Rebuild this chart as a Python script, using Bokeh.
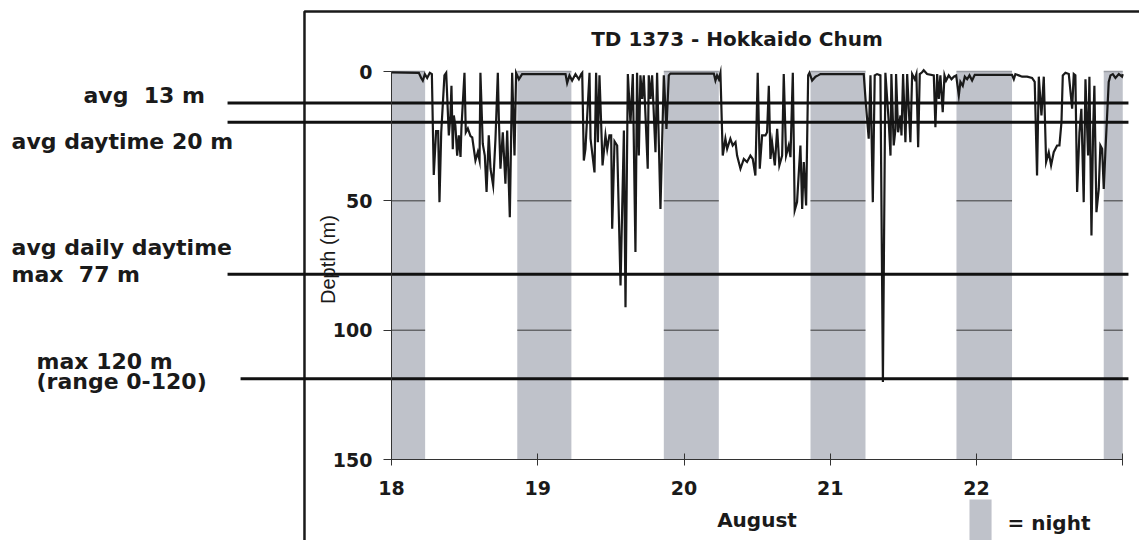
from bokeh.plotting import figure
from bokeh.models import Range1d, FixedTicker
from bokeh.core.properties import value
from bokeh.embed import file_html
from bokeh.resources import INLINE

# ---------------- data ----------------
chart_title = "TD 1373 - Hokkaido Chum"
x_label = "August"
y_label = "Depth (m)"
day_ticks = [18, 19, 20, 21, 22, 23]
depth_ticks = [0, 50, 100, 150]

night_start = [18.0, 18.86, 19.862, 20.865, 21.863, 22.870]
night_end = [18.23, 19.23, 20.238, 21.241, 22.243, 23.0]

time_days = [
    18.000, 18.187, 18.203, 18.214, 18.228, 18.244, 18.262, 18.276, 18.289, 18.305,
    18.319, 18.328, 18.340, 18.362, 18.374, 18.392, 18.403, 18.410, 18.419, 18.426,
    18.437, 18.449, 18.460, 18.472, 18.478, 18.499, 18.508, 18.522, 18.540, 18.552,
    18.574, 18.590, 18.602, 18.608, 18.624, 18.638, 18.650, 18.665, 18.677, 18.695,
    18.711, 18.727, 18.734, 18.745, 18.761, 18.779, 18.791, 18.809, 18.825, 18.841,
    18.852, 18.871, 18.893, 18.905, 19.190, 19.201, 19.217, 19.235, 19.258, 19.281,
    19.297, 19.304, 19.315, 19.326, 19.354, 19.361, 19.388, 19.399, 19.411, 19.422,
    19.434, 19.443, 19.463, 19.475, 19.490, 19.502, 19.509, 19.525, 19.543, 19.566,
    19.589, 19.600, 19.616, 19.634, 19.650, 19.668, 19.679, 19.691, 19.702, 19.714,
    19.725, 19.752, 19.759, 19.771, 19.782, 19.805, 19.816, 19.839, 19.862, 19.880,
    19.896, 19.907, 20.204, 20.215, 20.226, 20.238, 20.249, 20.265, 20.283, 20.295,
    20.317, 20.333, 20.352, 20.363, 20.386, 20.409, 20.431, 20.454, 20.470, 20.488,
    20.504, 20.518, 20.534, 20.557, 20.568, 20.580, 20.591, 20.602, 20.621, 20.637,
    20.652, 20.671, 20.682, 20.698, 20.716, 20.728, 20.744, 20.757, 20.773, 20.796,
    20.808, 20.819, 20.835, 20.849, 20.858, 20.876, 20.899, 20.917, 20.933, 21.229,
    21.241, 21.263, 21.275, 21.291, 21.304, 21.320, 21.343, 21.360, 21.377, 21.400,
    21.412, 21.418, 21.434, 21.446, 21.450, 21.464, 21.480, 21.487, 21.498, 21.514,
    21.526, 21.537, 21.548, 21.560, 21.578, 21.589, 21.601, 21.612, 21.628, 21.639,
    21.662, 21.708, 21.719, 21.731, 21.742, 21.753, 21.769, 21.781, 21.792, 21.810,
    21.829, 21.845, 21.861, 21.879, 21.890, 21.906, 21.920, 21.936, 21.952, 21.970,
    21.988, 22.243, 22.255, 22.266, 22.289, 22.312, 22.346, 22.380, 22.398, 22.414,
    22.426, 22.444, 22.460, 22.476, 22.494, 22.510, 22.528, 22.551, 22.567, 22.581,
    22.590, 22.608, 22.631, 22.654, 22.665, 22.676, 22.688, 22.704, 22.717, 22.733,
    22.745, 22.763, 22.772, 22.786, 22.797, 22.806, 22.820, 22.836, 22.847, 22.859,
    22.870, 22.881, 22.904, 22.916, 22.932, 22.950, 22.973, 22.995, 23.000,
]
depth_m = [
    0.3, 0.5, 2.5, 3.5, 1.0, 2.5, 0.5, 1.0, 40.0, 23.0,
    23.0, 50.5, 23.5, 1.5, 0.5, 24.7, 17.0, 5.5, 30.0, 17.0,
    21.0, 32.5, 24.7, 33.0, 22.0, 0.5, 23.5, 22.0, 25.0, 25.5,
    34.4, 31.2, 34.4, 0.5, 28.0, 32.5, 46.6, 24.7, 37.6, 44.0,
    26.0, 0.5, 18.3, 37.6, 23.5, 43.4, 22.8, 56.3, 0.5, 32.5,
    0.5, 3.0, 1.0, 1.0, 1.0, 4.5, 1.5, 3.5, 1.0, 3.0,
    1.0, 0.5, 34.4, 30.0, 0.5, 26.0, 39.0, 0.5, 27.3, 1.5,
    21.0, 36.3, 24.7, 30.0, 24.7, 24.7, 60.8, 27.0, 28.6, 82.7,
    22.8, 91.1, 1.0, 20.0, 1.0, 69.8, 0.5, 32.5, 1.5, 10.6,
    1.5, 37.6, 1.5, 10.6, 1.5, 31.2, 0.5, 53.1, 1.5, 22.2,
    1.5, 0.8, 0.8, 3.5, 1.5, 3.0, 0.5, 32.5, 26.0, 29.9,
    26.0, 28.6, 27.3, 32.5, 37.6, 33.8, 35.0, 32.5, 33.8, 40.2,
    0.5, 37.6, 24.7, 24.7, 23.5, 5.5, 33.8, 27.3, 36.3, 22.2,
    36.3, 32.5, 1.0, 32.5, 28.6, 33.1, 0.5, 53.7, 50.5, 28.6,
    53.1, 35.0, 51.8, 1.5, 0.5, 3.5, 2.0, 1.5, 1.0, 1.0,
    10.6, 26.0, 1.5, 50.5, 1.5, 1.0, 1.5, 120.0, 0.5, 19.6,
    32.5, 1.0, 28.6, 22.2, 1.0, 23.5, 17.0, 24.7, 1.0, 27.3,
    1.0, 14.4, 27.3, 1.0, 3.0, 1.0, 29.3, 1.0, 0.3, -0.5,
    1.0, 1.5, 21.5, 1.0, 10.6, 1.5, 15.7, 1.5, 3.5, 1.5,
    3.0, 2.0, 1.5, 9.3, 4.0, 5.5, 2.0, 3.0, 1.5, 3.5,
    1.3, 1.3, 3.0, 1.0, 1.5, 2.0, 2.0, 2.5, 4.0, 40.2,
    2.0, 17.0, 2.0, 35.0, 31.2, 36.3, 31.2, 28.6, 28.6, 19.6,
    1.5, 0.5, 1.0, 14.4, 1.0, 1.5, 46.6, 23.5, 14.4, 50.5,
    3.0, 32.5, 2.0, 63.4, 23.5, 5.5, 54.4, 45.4, 28.6, 29.9,
    45.4, 31.2, 4.0, 1.5, 1.0, 2.5, 1.0, 2.0, 1.0,
]

# reference lines (depth) and their captions
ref_line_depths = [12.2, 19.6, 78.4, 118.8]
ref_captions = ["avg\u00a0 13 m", "avg daytime 20 m", "avg daily daytime",
                "max\u00a0 77 m", "max 120 m", "(range 0-120)"]

# ---------------- layout constants ----------------
X_LO, X_HI = 15.3265, 23.1145
Y_BOTTOM, Y_TOP = 181.31, -27.448
FONT = "DejaVu Sans"
INK = "#1a1a1a"
NIGHT = "#bfc2ca"

p = figure(width=1139, height=540, x_range=Range1d(X_LO, X_HI),
           y_range=Range1d(Y_BOTTOM, Y_TOP), output_backend="svg",
           toolbar_location=None, title_location=None, min_border=0,
           background_fill_color="white", border_fill_color="white")
p.outline_line_color = None
p.center = []  # no grids

# night bands
p.quad(left=night_start, right=night_end, top=[0] * len(night_start),
       bottom=[150] * len(night_start), fill_color=NIGHT, line_color=None)
# band top edge and grid lines (visible only over nights)
p.segment(x0=night_start, x1=night_end, y0=[0] * 6, y1=[0] * 6,
          line_color="#9a9da4", line_width=1.5)
for g in depth_ticks[1:3]:
    p.segment(x0=night_start, x1=night_end, y0=[g] * 6, y1=[g] * 6,
              line_color="#3a3a3a", line_width=1)

# outer frame (left + top)
p.line(x=[17.405, 17.405, 23.2], y=[190, -23.2, -23.2], line_color=INK, line_width=2.5)

# depth trace
p.line(x=time_days, y=depth_m, line_color=INK, line_width=2.2, line_join="miter")

# reference lines
ref_x0 = [16.879, 16.879, 16.879, 16.968]
p.segment(x0=ref_x0, x1=[23.039] * 4, y0=ref_line_depths, y1=ref_line_depths,
          line_color="#111111", line_width=3)

# axes
xa = p.xaxis[0]
xa.fixed_location = 150
xa.bounds = (18, 23)
xa.ticker = FixedTicker(ticks=day_ticks)
xa.major_label_overrides = {23: ""}
xa.axis_line_color = "#333333"
xa.axis_line_width = 1
xa.major_tick_in = 6
xa.major_tick_out = 6
xa.major_tick_line_color = "#333333"
xa.minor_tick_line_color = None
xa.major_label_standoff = 15
xa.major_label_text_font = FONT
xa.major_label_text_font_style = "bold"
xa.major_label_text_font_size = "19px"
xa.major_label_text_color = INK
xa.axis_label = x_label
xa.axis_label_standoff = 10
xa.axis_label_text_font = FONT
xa.axis_label_text_font_style = "bold"
xa.axis_label_text_font_size = "20px"
xa.axis_label_text_color = INK

ya = p.yaxis[0]
ya.fixed_location = 18
ya.bounds = (0, 150)
ya.ticker = FixedTicker(ticks=depth_ticks)
ya.axis_line_color = "#333333"
ya.axis_line_width = 1
ya.major_tick_in = 0
ya.major_tick_out = 8
ya.major_tick_line_color = "#333333"
ya.minor_tick_line_color = None
ya.major_label_standoff = 11
ya.major_label_text_font = FONT
ya.major_label_text_font_style = "bold"
ya.major_label_text_font_size = "19px"
ya.major_label_text_color = INK

# title
p.text(x=[20.362], y=[-12.4], text=[chart_title], text_font=value(FONT),
       text_font_style="bold", text_font_size="20px", text_align="center",
       text_baseline="middle", text_color=INK)

# y label (rotated)
p.text(x=[17.569], y=[72.7], text=[y_label], text_font=value("Liberation Sans"),
       text_font_size="20px", text_align="center", text_baseline="middle",
       angle=1.5708, text_color=INK)

# left captions
p.text(x=[15.894, 15.402, 15.402, 15.402, 15.573, 15.573],
       y=[9.28, 27.06, 68.04, 78.48, 112.1, 119.9],
       text=ref_captions, text_font=value(FONT), text_font_style="bold",
       text_font_size="22px", text_align="left", text_baseline="middle",
       text_color=INK)

# night legend
p.quad(left=[21.952], right=[22.103], top=[165.5], bottom=[190],
       fill_color=NIGHT, line_color=None)
p.text(x=[22.212], y=[174.4], text=["= night"], text_font=value(FONT),
       text_font_style="bold", text_font_size="20px", text_align="left",
       text_baseline="middle", text_color=INK)

open("out.html", "w").write(file_html(p, INLINE))
